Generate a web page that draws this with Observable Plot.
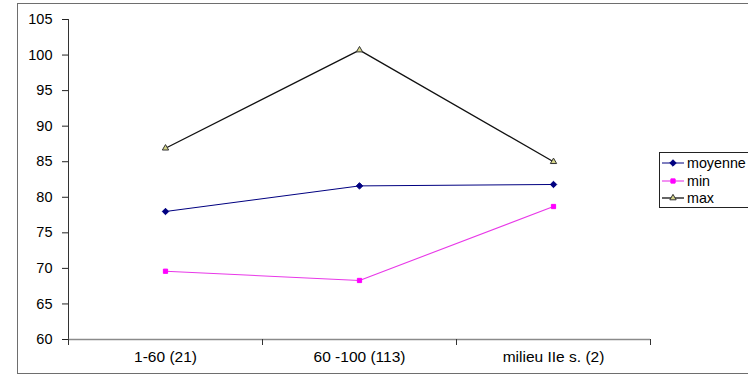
<!DOCTYPE html>
<html>
<head>
<meta charset="utf-8">
<script src="https://cdn.jsdelivr.net/npm/d3@7"></script>
<script src="https://cdn.jsdelivr.net/npm/@observablehq/plot@0.6"></script>
<style>
  html, body { margin: 0; padding: 0; background: #fff; }
  #wrap { position: relative; width: 748px; height: 378px; overflow: hidden; font-family: "Liberation Sans", Arial, sans-serif; }
  #frame { position: absolute; left: 17px; top: 3px; width: 760px; height: 371px; border: 1px solid #6e6e6e; box-sizing: border-box; }
  #chart { position: absolute; left: 0; top: 0; }
  #legend { position: absolute; left: 659px; top: 152px; width: 110px; height: 56px; border: 1px solid #222; box-sizing: border-box; background: #fff; }
  .row { position: absolute; left: 0; height: 18px; display: flex; align-items: center; font-size: 14.3px; color: #000; white-space: nowrap; }
  .row svg { margin-left: 2px; margin-right: 3px; }
</style>
</head>
<body>
<div id="wrap">
  <div id="frame"></div>
  <div id="chart"></div>
  <div id="legend"></div>
</div>
<script>
const categories = ["1-60 (21)", "60 -100 (113)", "milieu IIe s. (2)"];
const moyenne = [78.0, 81.6, 81.8];
const minVals = [69.6, 68.3, 78.7];
const maxVals = [86.9, 100.7, 85.0];
const yTicks = [60, 65, 70, 75, 80, 85, 90, 95, 100, 105];

const seriesDefs = [
  {name: "moyenne", values: moyenne, stroke: "#000080", symbol: "diamond2", fill: "#000080", dotStroke: "#000080", r: 2.9, sw: 1},
  {name: "min", values: minVals, stroke: "#e838e8", symbol: "square2", fill: "#ff00ff", dotStroke: "#ff00ff", r: 2.7, sw: 1.1},
  {name: "max", values: maxVals, stroke: "#111111", symbol: "triangle2", fill: "#d6d68a", dotStroke: "#333333", r: 3.0, sw: 1.3}
];

const rows = [];
seriesDefs.forEach(s => s.values.forEach((v, i) => rows.push({series: s.name, cat: categories[i], value: v})));

const W = 748, H = 378;
const mL = 68, mR = 98, mT = 19, mB = 39;
const bw = (W - mL - mR) / categories.length;

const marks = [
  Plot.axisY({ticks: yTicks, tickSize: 6, tickPadding: 10, fontSize: 14.5, label: null, stroke: "#222", color: "#000"}),
  Plot.ruleX([0], {x: () => categories[0], dx: -bw / 2, y1: 60, y2: 105, stroke: "#333"}),
  Plot.ruleY([60], {stroke: "#8a8a8a", strokeWidth: 1.6}),
  Plot.axisX({tickSize: 0, tickPadding: 11, fontSize: 15.5, label: null, color: "#000"}),
  Plot.axisX({text: null, tickSize: 6, dx: -bw / 2, stroke: "#333", label: null}),
  Plot.axisX({ticks: [categories[categories.length - 1]], text: null, tickSize: 6, dx: bw / 2, stroke: "#333", label: null})
];
seriesDefs.forEach(s => {
  const data = rows.filter(d => d.series === s.name);
  marks.push(Plot.line(data, {x: "cat", y: "value", stroke: s.stroke, strokeWidth: s.sw}));
});
seriesDefs.forEach(s => {
  const data = rows.filter(d => d.series === s.name);
  marks.push(Plot.dot(data, {x: "cat", y: "value", symbol: () => s.symbol, r: s.r, fill: s.fill, stroke: s.dotStroke, strokeWidth: 1}));
});

const chart = Plot.plot({
  width: W, height: H,
  marginLeft: mL, marginRight: mR, marginTop: mT, marginBottom: mB,
  style: {fontFamily: "'Liberation Sans', Arial, sans-serif", background: "transparent", overflow: "visible"},
  x: {type: "band", domain: categories, padding: 0, axis: null},
  y: {domain: [60, 105], axis: null},
  symbol: {type: "identity"},
  marks
});
document.getElementById("chart").appendChild(chart);

// Legend
const legend = document.getElementById("legend");
const rowTops = [1, 19, 36];
seriesDefs.forEach((s, i) => {
  const row = document.createElement("div");
  row.className = "row";
  row.style.top = rowTops[i] + "px";
  const sw = d3.create("svg").attr("width", 22).attr("height", 18);
  sw.append("line").attr("x1", 0).attr("x2", 22).attr("y1", 9).attr("y2", 9).attr("stroke", s.stroke).attr("stroke-width", s.sw);
  const sym = {diamond2: d3.symbolDiamond2, square2: d3.symbolSquare2, triangle2: d3.symbolTriangle2}[s.symbol];
  sw.append("path").attr("transform", "translate(11,9)").attr("d", d3.symbol(sym, Math.PI * s.r * s.r)())
    .attr("fill", s.fill).attr("stroke", s.dotStroke);
  row.appendChild(sw.node());
  const t = document.createElement("span");
  t.textContent = s.name;
  row.appendChild(t);
  legend.appendChild(row);
});
</script>
</body>
</html>
